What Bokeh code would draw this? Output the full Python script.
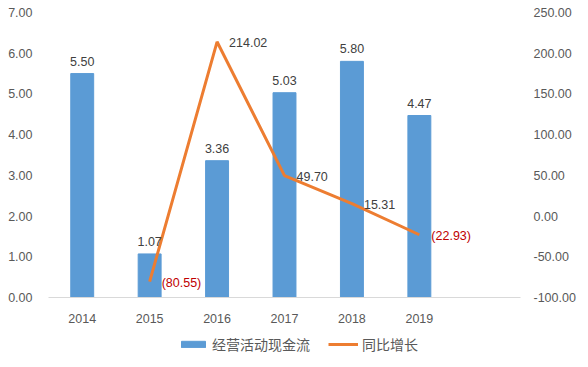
from bokeh.plotting import figure
from bokeh.layouts import column
from bokeh.models import (ColumnDataSource, Range1d, LinearAxis, FixedTicker,
                          NumeralTickFormatter, Legend, LegendItem)
from bokeh.embed import file_html
from bokeh.resources import INLINE
from bokeh.core.properties import value

years = ["2014", "2015", "2016", "2017", "2018", "2019"]
cash_flow = [5.50, 1.07, 3.36, 5.03, 5.80, 4.47]
yoy_years = ["2015", "2016", "2017", "2018", "2019"]
yoy = [-80.55, 214.02, 49.70, 15.31, -22.93]
left_ticks = [0, 1, 2, 3, 4, 5, 6, 7]
right_ticks = [-100, -50, 0, 50, 100, 150, 200, 250]
series_names = ["经营活动现金流", "同比增长"]

FONT = "Liberation Sans"
GRAY = "#595959"
BAR_COLOR = "#5B9BD5"
LINE_COLOR = "#ED7D31"

xs = list(range(len(years)))
xs_yoy = [years.index(y) for y in yoy_years]

bar_src = ColumnDataSource(dict(x=xs, v=cash_flow, lbl=["%.2f" % v for v in cash_flow]))
line_src = ColumnDataSource(dict(
    x=xs_yoy, v=yoy,
    lbl=[("(%.2f)" % -v) if v < 0 else "%.2f" % v for v in yoy],
    col=["#C00000" if v < 0 else "#404040" for v in yoy]))

p = figure(width=588, height=330, output_backend="svg", toolbar_location=None,
           x_range=Range1d(-0.5, 6.5), y_range=Range1d(0, 7),
           min_border_left=48, min_border_right=68, min_border_top=12,
           min_border_bottom=33)
p.extra_y_ranges = {"y2": Range1d(-100, 250)}
p.outline_line_color = None
p.grid.grid_line_color = None
p.background_fill_color = "white"
p.border_fill_color = "white"

p.vbar(x="x", top="v", width=0.34, source=bar_src, color=BAR_COLOR)
p.line(x="x", y="v", source=line_src, y_range_name="y2",
       line_color=LINE_COLOR, line_width=3)

p.text(x="x", y="v", text="lbl", source=bar_src, text_align="center",
       text_baseline="bottom", y_offset=-8, text_font=value(FONT),
       text_font_size="12.5px", text_color="#404040")
p.text(x="x", y="v", text="lbl", source=line_src, y_range_name="y2",
       text_align="left", text_baseline="middle", x_offset=12, y_offset=1,
       text_font=value(FONT), text_font_size="12.5px", text_color="col")

# axes
p.xaxis.ticker = FixedTicker(ticks=xs)
p.xaxis.major_label_overrides = {i: y for i, y in enumerate(years)}
p.xaxis.axis_line_color = "#D9D9D9"
p.xaxis.major_tick_line_color = None
p.xaxis.minor_tick_line_color = None
p.xaxis.major_label_standoff = 10

p.yaxis.ticker = FixedTicker(ticks=left_ticks)
p.yaxis.formatter = NumeralTickFormatter(format="0.00")
p.yaxis.axis_line_color = None
p.yaxis.major_tick_line_color = None
p.yaxis.minor_tick_line_color = None
p.yaxis.major_label_standoff = 10

ax2 = LinearAxis(y_range_name="y2", ticker=FixedTicker(ticks=right_ticks),
                 formatter=NumeralTickFormatter(format="0.00"))
ax2.axis_line_color = None
ax2.major_tick_line_color = None
ax2.minor_tick_line_color = None
ax2.major_label_standoff = 7
p.add_layout(ax2, "right")

for ax in [p.xaxis[0], p.yaxis[0], ax2]:
    ax.major_label_text_font = FONT
    ax.major_label_text_font_size = "12.5px"
    ax.major_label_text_color = GRAY

# legend strip (proxy renderers placed outside the visible range)
lg = figure(width=588, height=37, output_backend="svg", toolbar_location=None,
            x_range=Range1d(0, 588), y_range=Range1d(0, 37),
            min_border=0, x_axis_location=None, y_axis_location=None)
lg.outline_line_color = None
lg.grid.grid_line_color = None
lg_bar = lg.vbar(x=[-100], top=[-100], width=1, color=BAR_COLOR)
lg_line = lg.line(x=[-100, -90], y=[-100, -100], line_color=LINE_COLOR, line_width=3)
legend = Legend(items=[LegendItem(label=series_names[0], renderers=[lg_bar]),
                       LegendItem(label=series_names[1], renderers=[lg_line])],
                orientation="horizontal", location=(130, 13),
                label_text_font="Noto Sans CJK SC", label_text_font_size="14px",
                label_text_color=GRAY, glyph_width=30, glyph_height=8,
                spacing=18, label_standoff=4, border_line_color=None,
                background_fill_alpha=0, padding=0, margin=0)
lg.add_layout(legend, "center")

layout = column(p, lg, spacing=0)
open("out.html", "w").write(file_html(layout, INLINE))
